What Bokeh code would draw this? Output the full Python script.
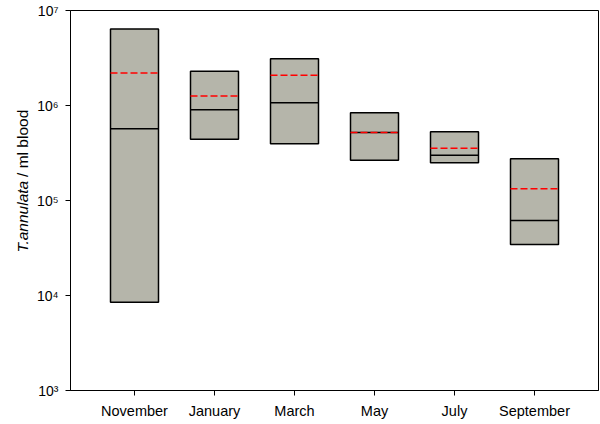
import math
from bokeh.plotting import figure
from bokeh.layouts import row
from bokeh.models import Range1d, FixedTicker, ColumnDataSource
from bokeh.core.properties import value
from bokeh.embed import file_html
from bokeh.resources import INLINE

# ---- data ----
months = ["November", "January", "March", "May", "July", "September"]
q3_top = [6.4e6, 2.3e6, 3.1e6, 8.4e5, 5.3e5, 2.75e5]
q1_bottom = [8.5e3, 4.4e5, 3.95e5, 2.65e5, 2.5e5, 3.45e4]
median = [5.7e5, 9.0e5, 1.07e6, 5.2e5, 3.0e5, 6.15e4]
mean = [2.2e6, 1.26e6, 2.08e6, 5.2e5, 3.55e5, 1.33e5]
y_ticks = [1000, 10000, 100000, 1000000, 10000000]
y_tick_labels = ["10\u00b3", "10\u2074", "10\u2075", "10\u2076", "10\u2077"]
y_title_species = "T.annulata"
y_title_unit = "/ ml blood"

pos = list(range(1, len(months) + 1))
half = 0.3
src = ColumnDataSource(dict(
    x=pos,
    left=[v - half for v in pos],
    right=[v + half for v in pos],
    q1=q1_bottom, q3=q3_top, med=median, mean=mean,
))

FONT = "Liberation Sans"
H = 424
TW = 30  # width of the strip holding the y-axis title

# ---- strip with the rotated y-axis title ----
t = figure(width=TW, height=H, x_range=Range1d(0, TW), y_range=Range1d(0, H),
           output_backend="svg", toolbar_location=None,
           min_border_left=0, min_border_right=0, min_border_top=0,
           min_border_bottom=0)
t.axis.visible = False
t.grid.visible = False
t.outline_line_color = None
t.background_fill_color = "white"
t.border_fill_color = "white"
t.text(x=[22], y=[H - 190], text=[y_title_species], angle=math.pi / 2,
       text_align="right", text_baseline="alphabetic",
       text_font=value(FONT), text_font_style="italic",
       text_font_size="15.5px", text_color="black")
t.text(x=[22], y=[H - 190 + 4.3], text=[y_title_unit], angle=math.pi / 2,
       text_align="left", text_baseline="alphabetic",
       text_font=value(FONT), text_font_size="15.5px", text_color="black")

# ---- main chart ----
p = figure(width=600 - TW, height=H,
           x_range=Range1d(0.2, 0.2 + 528 / 80), y_range=Range1d(1e3, 1e7),
           y_axis_type="log", output_backend="svg", toolbar_location=None,
           min_border_left=70 - TW, min_border_right=2, min_border_top=10,
           min_border_bottom=34)
p.grid.visible = False
p.outline_line_color = "black"
p.outline_line_width = 1
p.background_fill_color = "white"
p.border_fill_color = "white"

p.quad(left="left", right="right", bottom="q1", top="q3", source=src,
       fill_color="#b5b5aa", line_color="black", line_width=1.5)
p.segment(x0="left", x1="right", y0="med", y1="med", source=src,
          line_color="black", line_width=1.5)
p.segment(x0="left", x1="right", y0="mean", y1="mean", source=src,
          line_color="#ff0000", line_width=1.5, line_dash="7 3")

# x axis
xa = p.xaxis[0]
xa.ticker = FixedTicker(ticks=pos)
xa.major_label_overrides = {i: m for i, m in zip(pos, months)}
xa.minor_tick_line_color = None
xa.major_tick_in = 0
xa.major_tick_out = 5
xa.major_label_standoff = 7
xa.axis_line_color = "black"
xa.major_tick_line_color = "black"
xa.major_label_text_font = FONT
xa.major_label_text_font_size = "14.5px"
xa.major_label_text_color = "black"

# y axis
ya = p.yaxis[0]
ya.ticker = FixedTicker(ticks=y_ticks, minor_ticks=[])
ya.major_label_overrides = {t_: l for t_, l in zip(y_ticks, y_tick_labels)}
ya.minor_tick_line_color = None
ya.major_tick_in = 0
ya.major_tick_out = 5
ya.major_label_standoff = 7
ya.axis_line_color = "black"
ya.major_tick_line_color = "black"
ya.major_label_text_font = FONT
ya.major_label_text_font_size = "14px"
ya.major_label_text_color = "black"

layout = row(t, p, spacing=0)
open("out.html", "w").write(file_html(layout, INLINE))
